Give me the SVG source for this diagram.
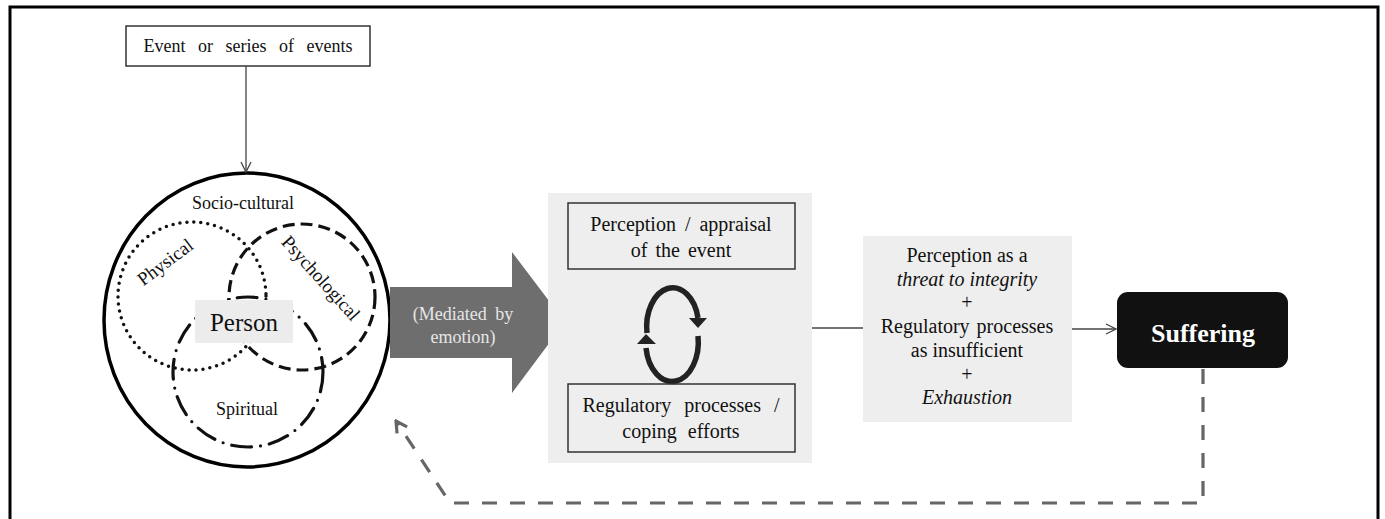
<svg xmlns="http://www.w3.org/2000/svg" width="1385" height="519" viewBox="0 0 1385 519">
<style>
text{font-family:"Liberation Serif","Times New Roman",serif;fill:#111;}
.t20{font-size:20px;}
.c{text-anchor:middle;}
.box{fill:none;stroke:#333;stroke-width:1.5;}
.panel{fill:#eeeeee;}
.thin{fill:none;stroke:#444;stroke-width:1.3;}
</style>
<defs>
<marker id="open" viewBox="0 0 12 12" refX="11" refY="6" markerWidth="12" markerHeight="12" markerUnits="userSpaceOnUse" orient="auto">
<path d="M1 1 L11 6 L1 11" fill="none" stroke="#444" stroke-width="1.3"/>
</marker>
<marker id="dashhead" viewBox="0 0 16 16" refX="14" refY="8" markerWidth="16" markerHeight="16" markerUnits="userSpaceOnUse" orient="auto">
<path d="M3 2 L14 8 L3 14" fill="none" stroke="#666" stroke-width="3.2"/>
</marker>
</defs>
<rect width="1385" height="519" fill="#fff"/>
<path d="M10 530 V7 H1378 V530" fill="none" stroke="#000" stroke-width="3"/>

<g id="event">
<rect x="126" y="26" width="244" height="40" fill="#fff" class="box"/>
<text x="248" y="52" class="c" font-size="18" word-spacing="8">Event or series of events</text>
</g>

<g id="person">
<ellipse cx="247" cy="320" rx="143" ry="147" fill="#fff" stroke="#000" stroke-width="3.5"/>
<text x="243" y="209" class="c" font-size="18">Socio-cultural</text>
<circle cx="248" cy="372" r="75" fill="none" stroke="#111" stroke-width="3.2" stroke-linecap="round" stroke-dasharray="20 9 0 9"/>
<circle cx="192" cy="296" r="74" fill="none" stroke="#111" stroke-width="3.5" stroke-linecap="round" stroke-dasharray="0 7"/>
<circle cx="302" cy="297" r="73" fill="none" stroke="#111" stroke-width="3.2" stroke-dasharray="12 6"/>
<text x="0" y="0" class="c" font-size="19" transform="translate(165,262) rotate(-37)" dominant-baseline="central">Physical</text>
<text x="0" y="0" class="c" font-size="19" transform="translate(321,278) rotate(48)" dominant-baseline="central">Psychological</text>
<text x="247" y="415" class="c" font-size="18">Spiritual</text>
<rect x="195" y="300" width="98" height="43" fill="#ececec"/>
<text x="244" y="331" class="c" font-size="25">Person</text>
</g>

<g id="mediated">
<path d="M390 287 H512 V252 L565 322 L512 393 V358 H390 Z" fill="#6e6e6e"/>
<text x="463" y="320" class="c" font-size="18" style="fill:#e6e6e6" word-spacing="4">(Mediated by</text>
<text x="463" y="343" class="c" font-size="18" style="fill:#e6e6e6">emotion)</text>
</g>

<g id="process">
<rect x="548" y="193" width="264" height="270" class="panel"/>
<g id="appraisal">
<rect x="568" y="203" width="227" height="66" class="box"/>
<text x="681" y="231" class="c t20" word-spacing="4">Perception / appraisal</text>
<text x="681" y="257" class="c t20" word-spacing="3">of the event</text>
</g>
<g id="cycle" fill="none" stroke="#222" stroke-width="5.5">
<path d="M647 333 A26 39 0 0 1 698 318"/>
<path d="M698 336 A26 39 0 0 1 646 348"/>
<polygon points="689,318 707,318 698,328" fill="#222" stroke="none"/>
<polygon points="637,344 656,344 646,334" fill="#222" stroke="none"/>
</g>
<g id="regulatory">
<rect x="568" y="384" width="227" height="68" class="box"/>
<text x="681" y="412" class="c t20" word-spacing="8">Regulatory processes /</text>
<text x="681" y="438" class="c t20" word-spacing="6">coping efforts</text>
</g>
</g>

<g id="conditions">
<rect x="863" y="236" width="209" height="186" class="panel"/>
<text x="967" y="262" class="c t20">Perception as a</text>
<text x="967" y="286" class="c t20" font-style="italic">threat to integrity</text>
<text x="967" y="309" class="c t20">+</text>
<text x="967" y="333" class="c t20" word-spacing="2">Regulatory processes</text>
<text x="967" y="357" class="c t20">as insufficient</text>
<text x="967" y="381" class="c t20">+</text>
<text x="967" y="404" class="c t20" font-style="italic">Exhaustion</text>
</g>

<g id="suffering">
<rect x="1117" y="292" width="171" height="76" rx="11" fill="#111"/>
<text x="1203" y="342" class="c" font-size="26" font-weight="bold" style="fill:#fff">Suffering</text>
</g>

<g id="connectors">
<line x1="246" y1="66" x2="246" y2="172" class="thin" marker-end="url(#open)"/>
<line x1="812" y1="328" x2="863" y2="328" class="thin"/>
<line x1="1072" y1="329" x2="1116" y2="329" class="thin" marker-end="url(#open)"/>
<path d="M1203 369 V503 H450 L396 421" fill="none" stroke="#666" stroke-width="3.2" stroke-dasharray="15 13" marker-end="url(#dashhead)"/>
</g>
</svg>
